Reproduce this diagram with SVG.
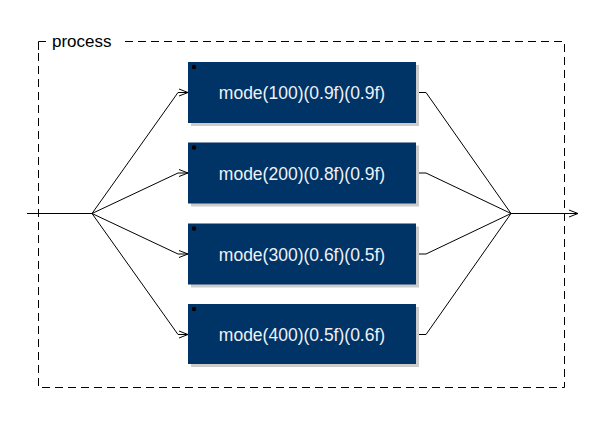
<svg xmlns="http://www.w3.org/2000/svg" width="597" height="421" viewBox="0 0 597 421">
<style>
.frame{fill:none;stroke:#000;stroke-width:1;stroke-dasharray:8,5}
.corner{fill:none;stroke:#000;stroke-width:1}
.lbl{font-family:"Liberation Sans",Arial,sans-serif;font-size:17px;fill:#000}
.box{fill:#003366}
.shadow{fill:#cccccc}
.dot{fill:#000}
.txt{font-family:"Liberation Sans",Arial,sans-serif;font-size:17.5px;fill:#eef2f6;text-anchor:middle}
.edge{fill:none;stroke:#000;stroke-width:1}
</style>
<defs>
<marker id="arr" viewBox="0 0 10 10" refX="10" refY="5" markerWidth="10" markerHeight="10" markerUnits="userSpaceOnUse" orient="auto">
<path d="M1,1.5 L10,5 L1,8.5" fill="none" stroke="#000" stroke-width="1"/>
</marker>
</defs>
<g id="frame">
<path class="corner" d="M38.5,50 V41.5 H46"/>
<path class="frame" d="M125,41.5 H564.5 V387.5 H38.5 V52"/>
<text class="lbl" x="52" y="47">process</text>
</g>
<g id="connectors">
<path class="edge" d="M27,213.5 H92"/>
<path class="edge" d="M92,213.5 L178,92.5 H188" marker-end="url(#arr)"/>
<path class="edge" d="M92,213.5 L178,173 H188" marker-end="url(#arr)"/>
<path class="edge" d="M92,213.5 L178,254 H188" marker-end="url(#arr)"/>
<path class="edge" d="M92,213.5 L178,334.5 H188" marker-end="url(#arr)"/>
<path class="edge" d="M416,92.5 H426 L511,213.5"/>
<path class="edge" d="M416,173 H426 L511,213.5"/>
<path class="edge" d="M416,254 H426 L511,213.5"/>
<path class="edge" d="M416,334.5 H426 L511,213.5"/>
<path class="edge" d="M511,213.5 H578" marker-end="url(#arr)"/>
</g>
<g id="node1">
<rect class="shadow" x="191" y="65" width="228" height="61"/>
<rect class="box" x="188" y="62" width="228" height="61"/>
<circle class="dot" cx="194" cy="67" r="2.2"/>
<text class="txt" x="302" y="99">mode(100)(0.9f)(0.9f)</text>
</g>
<g id="node2">
<rect class="shadow" x="191" y="145.5" width="228" height="61"/>
<rect class="box" x="188" y="142.5" width="228" height="61"/>
<circle class="dot" cx="194" cy="147.5" r="2.2"/>
<text class="txt" x="302" y="179.5">mode(200)(0.8f)(0.9f)</text>
</g>
<g id="node3">
<rect class="shadow" x="191" y="226.5" width="228" height="61"/>
<rect class="box" x="188" y="223.5" width="228" height="61"/>
<circle class="dot" cx="194" cy="228.5" r="2.2"/>
<text class="txt" x="302" y="260.5">mode(300)(0.6f)(0.5f)</text>
</g>
<g id="node4">
<rect class="shadow" x="191" y="307" width="228" height="60"/>
<rect class="box" x="188" y="304" width="228" height="60"/>
<circle class="dot" cx="194" cy="309" r="2.2"/>
<text class="txt" x="302" y="341">mode(400)(0.5f)(0.6f)</text>
</g>
</svg>
